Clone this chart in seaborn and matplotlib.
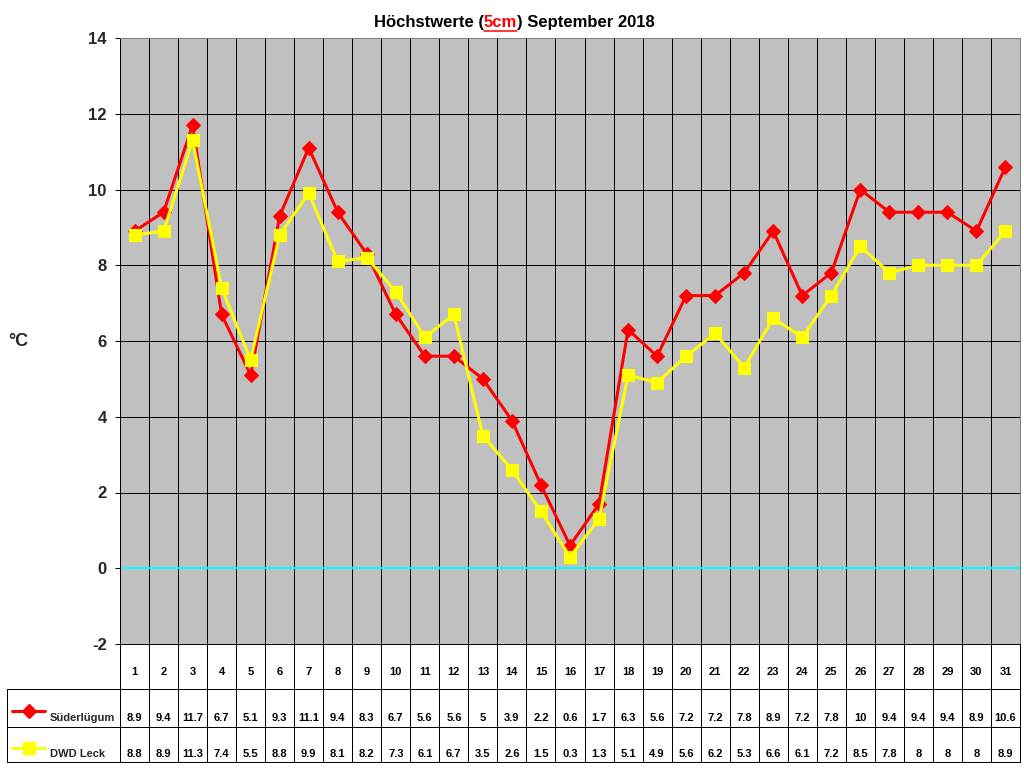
import numpy as np
import pandas as pd
import matplotlib.pyplot as plt
import seaborn as sb
from matplotlib.lines import Line2D

# values (data table below the plot)
days = list(range(1, 32))
suederluegum = [8.9, 9.4, 11.7, 6.7, 5.1, 9.3, 11.1, 9.4, 8.3, 6.7, 5.6, 5.6, 5.0, 3.9, 2.2, 0.6,
                1.7, 6.3, 5.6, 7.2, 7.2, 7.8, 8.9, 7.2, 7.8, 10.0, 9.4, 9.4, 9.4, 8.9, 10.6]
dwd_leck = [8.8, 8.9, 11.3, 7.4, 5.5, 8.8, 9.9, 8.1, 8.2, 7.3, 6.1, 6.7, 3.5, 2.6, 1.5, 0.3,
            1.3, 5.1, 4.9, 5.6, 6.2, 5.3, 6.6, 6.1, 7.2, 8.5, 7.8, 8.0, 8.0, 8.0, 8.9]
series_names = ['Süderlügum', 'DWD Leck']
y_ticks = [-2, 0, 2, 4, 6, 8, 10, 12, 14]

sb.set_theme(style='white')
plt.rcParams['font.family'] = ['Liberation Sans', 'DejaVu Sans']
plt.rcParams['axes.unicode_minus'] = False

W, H = 1024, 768
# plot area in pixels
L, R, T, B = 120, 1020, 38, 644
PX = 0.72  # one pixel in points

fig = plt.figure(figsize=(W / 100, H / 100), dpi=100)
ax = fig.add_axes([L / W, (H - B) / H, (R - L) / W, (B - T) / H])
ax.set_facecolor('#C0C0C0')

df = pd.DataFrame({'day': days, series_names[0]: suederluegum, series_names[1]: dwd_leck})

ax.axhline(0, color='#00FFFF', lw=2 * PX, zorder=2)
sb.lineplot(data=df, x='day', y=series_names[0], ax=ax, color='#FF0000', lw=3 * PX,
            marker='D', markersize=7, markeredgecolor='#FF0000', zorder=3, legend=False)
sb.lineplot(data=df, x='day', y=series_names[1], ax=ax, color='#FFFF00', lw=3 * PX,
            marker='s', markersize=8, markeredgecolor='#FFFF00', zorder=4, legend=False)

ax.set_xlim(0.5, 31.5)
ax.set_ylim(-2, 14)
ax.set_xticks([])
ax.set_yticks(y_ticks)
ax.set_xlabel('')
ax.set_ylabel('')
ax.yaxis.grid(True, color='black', lw=PX)
ax.set_axisbelow(True)
ax.tick_params(axis='y', direction='out', length=5 * PX, width=PX, color='black',
               labelsize=12, pad=6, left=True)
for lab in ax.get_yticklabels():
    lab.set_fontweight('bold')

for side in ['top', 'right']:
    ax.spines[side].set_color('#808080')
    ax.spines[side].set_linewidth(PX)
for side in ['left', 'bottom']:
    ax.spines[side].set_color('black')
    ax.spines[side].set_linewidth(PX)


def fy(py):
    # pixel row -> axes fraction of the plot
    return (B - py) / (B - T)


xt = ax.get_xaxis_transform()
col_w = (R - L) / len(days)
x_box = 0.5 - (L - 7) / col_w
row1, row2, bottom = 689, 727, 762

# vertical grid lines run through the data table
for b in np.arange(1.5, 31.5, 1.0):
    ax.plot([b, b], [1, fy(bottom)], transform=xt, color='black', lw=PX, clip_on=False, zorder=1)
ax.plot([0.5, 0.5], [0, fy(bottom)], transform=xt, color='black', lw=PX, clip_on=False)
ax.plot([31.5, 31.5], [0, fy(bottom)], transform=xt, color='black', lw=PX, clip_on=False)
ax.plot([x_box, x_box], [fy(row1), fy(bottom)], transform=xt, color='black', lw=PX, clip_on=False)
for py in [row1, row2, bottom]:
    ax.plot([x_box, 31.5], [fy(py), fy(py)], transform=xt, color='black', lw=PX, clip_on=False)

fmt = lambda v: '%g' % v
for d, s, k in zip(days, suederluegum, dwd_leck):
    ax.text(d, fy(672), str(d), transform=xt, ha='center', va='center',
            fontsize=8, fontweight='bold', color='black')
    ax.text(d, fy(718), fmt(s), transform=xt, ha='center', va='center',
            fontsize=8, fontweight='bold', color='black')
    ax.text(d, fy(754), fmt(k), transform=xt, ha='center', va='center',
            fontsize=8, fontweight='bold', color='black')

# legend keys inside the table
fig.add_artist(Line2D([12 / W, 45 / W], [(H - 711) / H] * 2, color='#FF0000', lw=3 * PX))
fig.add_artist(Line2D([29 / W], [(H - 711) / H], marker='D', markersize=7, color='#FF0000'))
fig.add_artist(Line2D([12 / W, 45 / W], [(H - 748) / H] * 2, color='#FFFF00', lw=3 * PX))
fig.add_artist(Line2D([29 / W], [(H - 748) / H], marker='s', markersize=8, color='#FFFF00'))
fig.text(50 / W, (H - 718) / H, series_names[0], ha='left', va='center',
         fontsize=8, fontweight='bold')
fig.text(50 / W, (H - 754) / H, series_names[1], ha='left', va='center',
         fontsize=8, fontweight='bold')

fig.text(18 / W, (H - 341) / H, '°C', ha='center', va='center', fontsize=13, fontweight='bold')

# title in three parts, middle one red and underlined
renderer = fig.canvas.get_renderer()
parts = [('Höchstwerte (', 'black'), ('5cm', '#FF0000'), (') September 2018', 'black')]
texts = [fig.text(0, (H - 27) / H, s, color=c, fontsize=12, fontweight='bold',
                  ha='left', va='baseline') for s, c in parts]
widths = [t.get_window_extent(renderer).width for t in texts]
x = 514 - sum(widths) / 2
for t, w in zip(texts, widths):
    t.set_x(x / W)
    x += w
x5 = 514 - sum(widths) / 2 + widths[0]
fig.add_artist(Line2D([x5 / W, (x5 + widths[1]) / W], [(H - 31) / H] * 2, color='#FF0000', lw=1.5 * PX))

fig.savefig('out.png', dpi=100)
